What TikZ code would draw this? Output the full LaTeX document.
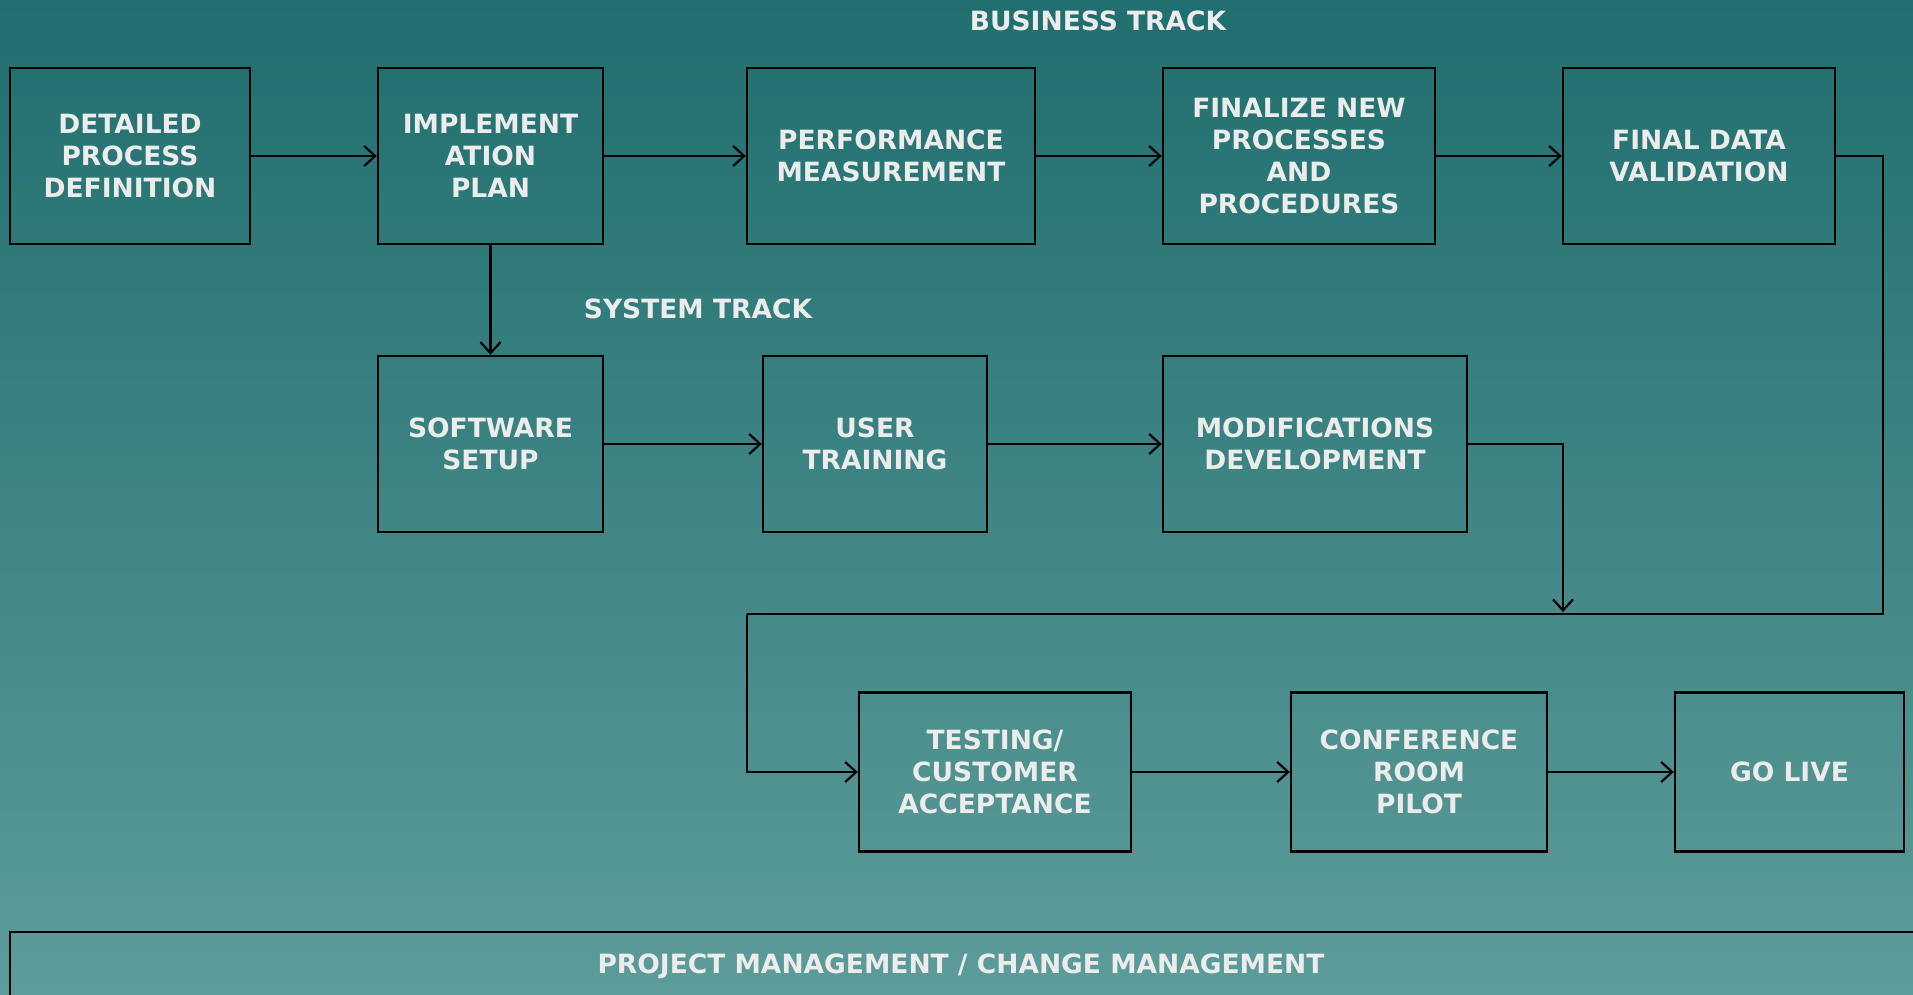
\documentclass[tikz,border=0pt]{standalone}
\usepackage{fontspec}
\setmainfont{DejaVu Sans}
\usetikzlibrary{arrows.meta}
\definecolor{bgtop}{RGB}{32,110,110}
\definecolor{bgbot}{RGB}{92,156,154}
\definecolor{txt}{RGB}{236,236,236}
\tikzset{
  box/.style={draw=black, line width=2.4pt, inner sep=0pt, minimum height=176pt, align=center, text=txt, font=\fontsize{26.5}{32}\selectfont\bfseries},
  lbl/.style={text=txt, inner sep=0pt, font=\fontsize{26.5}{32}\selectfont\bfseries},
  conn/.style={line width=2.2pt, -{Straight Barb[length=11pt,width=20pt,line width=2.2pt]}},
  plain/.style={line width=2.2pt}
}
\begin{document}
\begin{tikzpicture}[x=1pt,y=-1pt]
\useasboundingbox (0,0) rectangle (1913,994);
\clip (0,0) rectangle (1913,994);
\shade[top color=bgtop, bottom color=bgbot] (0,0) rectangle (1913,994);

\node[lbl] (bt) at (1098,21) {BUSINESS TRACK};
\node[lbl] (st) at (698,309) {SYSTEM TRACK};

\node[box, minimum width=240pt] (b1) at (130,156) {DETAILED\\PROCESS\\DEFINITION};
\node[box, minimum width=225pt] (b2) at (490.5,156) {IMPLEMENT\\ATION\\PLAN};
\node[box, minimum width=288pt] (b3) at (891,156) {PERFORMANCE\\MEASUREMENT};
\node[box, minimum width=272pt] (b4) at (1299,156) {FINALIZE NEW\\PROCESSES\\AND\\PROCEDURES};
\node[box, minimum width=272pt] (b5) at (1699,156) {FINAL DATA\\VALIDATION};

\node[box, minimum width=225pt] (s1) at (490.5,444) {SOFTWARE\\SETUP};
\node[box, minimum width=224pt] (s2) at (875,444) {USER\\TRAINING};
\node[box, minimum width=304pt] (s3) at (1315,444) {MODIFICATIONS\\DEVELOPMENT};

\node[box, minimum width=272pt, minimum height=159pt] (t1) at (995,772) {TESTING/\\CUSTOMER\\ACCEPTANCE};
\node[box, minimum width=256pt, minimum height=159pt] (t2) at (1419,772) {CONFERENCE\\ROOM\\PILOT};
\node[box, minimum width=229pt, minimum height=159pt] (t3) at (1789.5,772) {GO LIVE};

\draw[draw=black, line width=2.4pt] (10,1010) -- (10,932) -- (1930,932);
\node[lbl] (pm) at (961,966) {PROJECT MANAGEMENT / CHANGE MANAGEMENT};

\coordinate (r) at (1883,614);
\coordinate (l) at (747,614);
\coordinate (m) at (1563,612);

\draw[conn] (b1.east) -- (b2.west);
\draw[conn] (b2.east) -- (b3.west);
\draw[conn] (b3.east) -- (b4.west);
\draw[conn] (b4.east) -- (b5.west);
\draw[conn] (b2.south) -- (s1.north);
\draw[conn] (s1.east) -- (s2.west);
\draw[conn] (s2.east) -- (s3.west);
\draw[conn] (s3.east) -| (m);
\draw[plain] (b5.east) -| (r) -- (l);
\draw[conn] (l) |- (t1.west);
\draw[conn] (t1.east) -- (t2.west);
\draw[conn] (t2.east) -- (t3.west);
\end{tikzpicture}
\end{document}
